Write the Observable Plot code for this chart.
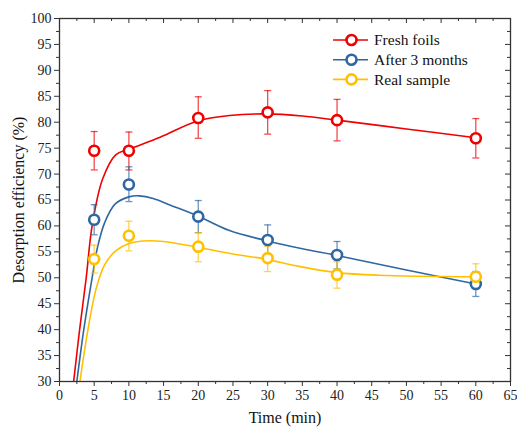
<!DOCTYPE html>
<html><head><meta charset="utf-8">
<script src="https://cdn.jsdelivr.net/npm/d3@7"></script>
<script src="https://cdn.jsdelivr.net/npm/@observablehq/plot@0.6"></script>
<style>body{margin:0;background:#fff} #chart{width:517px;height:429px}</style>
</head><body><div id="chart"></div>
<script>
// ---- data ----
const seriesNames = ["Fresh foils", "After 3 months", "Real sample"];
const seriesColors = ["#f00000", "#2f67a3", "#ffc000"];
const times = [5, 10, 20, 30, 40, 60];

const freshMean = [74.5, 74.5, 80.8, 81.9, 80.4, 76.9];
const freshLo   = [70.8, 70.8, 76.9, 77.7, 76.4, 73.1];
const freshHi   = [78.2, 78.1, 84.9, 86.1, 84.4, 80.7];

const agedMean = [61.2, 68.0, 61.8, 57.3, 54.4, 48.8];
const agedLo   = [58.3, 64.7, 58.7, 54.5, 51.7, 46.4];
const agedHi   = [64.1, 71.4, 64.9, 60.2, 57.0, 51.2];

const realMean = [53.6, 58.1, 56.0, 53.8, 50.6, 50.2];
const realLo   = [50.9, 55.2, 53.1, 51.2, 48.0, 47.9];
const realHi   = [56.3, 60.9, 58.7, 56.1, 53.1, 52.7];

// fitted curves
const freshFitX = [2.04, 2.9, 3.85, 4.7, 6.2, 8.1, 10, 14.5, 19.8, 24.5, 29.7, 35, 40, 50, 60];
const freshFitY = [30, 40, 50, 60, 69, 73.7, 74.8, 77.1, 80.2, 81.3, 81.6, 81.2, 80.4, 78.7, 77.0];
const agedFitX = [2.5, 3.5, 4.7, 5.5, 6.5, 8, 10, 11.5, 13.5, 16, 19.8, 24.5, 29.7, 35, 40, 50, 60];
const agedFitY = [30, 40, 50, 56.0, 60.6, 64.2, 65.6, 65.8, 65.3, 64.0, 62.0, 59.1, 57.2, 55.6, 54.3, 51.5, 48.8];
const realFitX = [2.95, 4.1, 5.3, 6.5, 8.1, 10, 12, 15, 19.8, 25, 29.7, 34.5, 40, 46, 60];
const realFitY = [30, 40, 48, 52.5, 55.2, 56.6, 57.1, 57.0, 55.9, 54.6, 53.6, 52.2, 51.0, 50.5, 50.2];

const xMajor = d3.range(0, 66, 5);
const xMinor = d3.range(2.5, 65, 5);
const yMajor = d3.range(30, 101, 5);
const yMinor = d3.range(32.5, 100, 5);

// ---- tables ----
const means = [freshMean, agedMean, realMean];
const los = [freshLo, agedLo, realLo];
const his = [freshHi, agedHi, realHi];
const fitXs = [freshFitX, agedFitX, realFitX];
const fitYs = [freshFitY, agedFitY, realFitY];

const points = [];
seriesNames.forEach((s, k) => times.forEach((t, i) =>
  points.push({series: s, t, mean: means[k][i], lo: los[k][i], hi: his[k][i]})));
const fits = [];
seriesNames.forEach((s, k) => fitXs[k].forEach((x, i) => fits.push({series: s, x, y: fitYs[k][i]})));

const W = 517, H = 429, mL = 59, mR = 7, mT = 18, mB = 48;
const innerW = W - mL - mR, innerH = H - mT - mB;
const cap = {draw(ctx) { ctx.moveTo(-3.5, 0); ctx.lineTo(3.5, 0); }};
const axisColor = "#333";

const chart = Plot.plot({
  width: W, height: H,
  marginLeft: mL, marginRight: mR, marginTop: mT, marginBottom: mB,
  style: {fontFamily: "'Liberation Serif', 'Times New Roman', serif", fontSize: "14px", color: "#222", background: "#fff"},
  x: {domain: [0, 65], label: null},
  y: {domain: [30, 100], label: null},
  color: {domain: seriesNames, range: seriesColors},
  marks: [
    Plot.line(fits, {x: "x", y: "y", z: "series", stroke: "series", strokeWidth: 1.6, curve: "catmull-rom", clip: true}),
    Plot.ruleX(points, {x: "t", y1: "lo", y2: "hi", stroke: "series", strokeWidth: 1.3, strokeOpacity: 0.7}),
    Plot.dot(points, {x: "t", y: "lo", symbol: cap, stroke: "series", strokeWidth: 1.3, strokeOpacity: 0.7}),
    Plot.dot(points, {x: "t", y: "hi", symbol: cap, stroke: "series", strokeWidth: 1.3, strokeOpacity: 0.7}),
    Plot.dot(points, {x: "t", y: "mean", stroke: "series", fill: "white", r: 5, strokeWidth: 2.6}),
    Plot.frame({stroke: axisColor, strokeWidth: 1.3}),
    Plot.axisX(xMajor, {tickSize: 5, tickPadding: 4, stroke: axisColor, fill: "#222", fontSize: 14, label: null}),
    Plot.axisX(xMinor, {tickSize: 3, tickFormat: () => "", stroke: axisColor, label: null}),
    Plot.axisY(yMajor, {tickSize: 5, tickPadding: 3, stroke: axisColor, fill: "#222", fontSize: 14, label: null}),
    Plot.axisY(yMinor, {tickSize: 3, tickFormat: () => "", stroke: axisColor, label: null}),
    Plot.tickX(xMajor, {x: d => d, insetBottom: innerH - 5, stroke: axisColor}),
    Plot.tickX(xMinor, {x: d => d, insetBottom: innerH - 3, stroke: axisColor}),
    Plot.tickY(yMajor, {y: d => d, insetLeft: innerW - 5, stroke: axisColor}),
    Plot.tickY(yMinor, {y: d => d, insetLeft: innerW - 3, stroke: axisColor}),
    Plot.text(["Time (min)"], {frameAnchor: "bottom", dy: 36, lineAnchor: "middle", fontSize: 16, fill: "#111"}),
    Plot.text(["Desorption efficiency (%)"], {frameAnchor: "left", dx: -41, rotate: -90, textAnchor: "middle", lineAnchor: "middle", fontSize: 16, fill: "#111"})
  ]
});
document.getElementById("chart").appendChild(chart);

// legend inside the plot, top right
const svg = d3.select(chart);
const lg = svg.append("g").attr("transform", "translate(333,40)");
seriesNames.forEach((s, i) => {
  const g = lg.append("g").attr("transform", `translate(0,${i * 19.7})`);
  g.append("line").attr("x1", 0).attr("x2", 35).attr("y1", 0).attr("y2", 0)
    .attr("stroke", seriesColors[i]).attr("stroke-width", 1.6);
  g.append("circle").attr("cx", 18.5).attr("cy", 0).attr("r", 5)
    .attr("fill", "white").attr("stroke", seriesColors[i]).attr("stroke-width", 2.6);
  g.append("text").attr("x", 41).attr("y", 0).attr("dy", "0.35em")
    .attr("text-anchor", "start")
    .attr("font-size", 15.5).attr("fill", "#111").text(s);
});
</script>
</body></html>
